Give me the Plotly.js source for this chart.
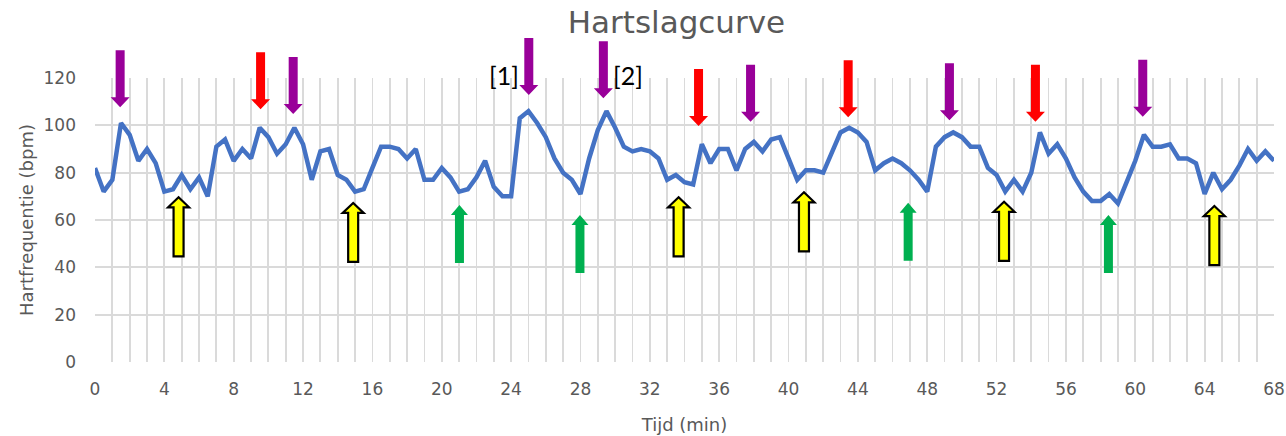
<!DOCTYPE html>
<html>
<head>
<meta charset="utf-8">
<script src="https://cdn.plot.ly/plotly-3.0.1.min.js"></script>
<style>html,body{margin:0;padding:0;background:#fff;}#chart{width:1286px;height:436px;}</style>
</head>
<body>
<div id="chart"></div>
<script>
// Time (min), one reading every half minute
const timeMin = [];
for (let i = 0; i <= 136; i++) timeMin.push(i / 2);

// Heart rate (bpm)
const heartRate = [
  82, 72, 77, 101, 96, 85, 90, 84, 72, 73,
  79, 73, 78, 70, 91, 94, 85, 90, 86, 99,
  95, 88, 92, 99, 92, 77, 89, 90, 79, 77,
  72, 73, 82, 91, 91, 90, 86, 90, 77, 77,
  82, 78, 72, 73, 78, 85, 74, 70, 70, 103,
  106, 101, 95, 86, 80, 77, 71, 86, 98, 106,
  99, 91, 89, 90, 89, 86, 77, 79, 76, 75,
  92, 84, 90, 90, 81, 90, 93, 89, 94, 95,
  86, 77, 81, 81, 80, 89, 97, 99, 97, 93,
  81, 84, 86, 84, 81, 77, 72, 91, 95, 97,
  95, 91, 91, 82, 79, 72, 77, 72, 80, 97,
  88, 92, 86, 78, 72, 68, 68, 71, 67, 76,
  85, 96, 91, 91, 92, 86, 86, 84, 71, 80,
  73, 77, 83, 90, 85, 89, 85
];

const xTickVals = [0,4,8,12,16,20,24,28,32,36,40,44,48,52,56,60,64,68];
const yTickVals = [0,20,40,60,80,100,120];
const yMax = 120;

// Arrow markers: time, tip level (axis units), kind
const arrowTimes  = [1.45, 11.43, 25.02, 29.32, 37.81, 49.28, 60.43,
                     9.55, 34.81, 43.44, 54.24,
                     4.82, 14.89, 33.66, 40.89, 52.43, 64.56,
                     21.02, 27.97, 46.9, 58.45];
const arrowTips   = [107.6, 104.8, 112.8, 111.4, 101.5, 102.2, 103.6,
                     106.8, 99.7, 103.4, 101.5,
                     69.6, 67.2, 69.6, 71.7, 67.7, 65.9,
                     66.3, 62.1, 67.3, 62.1];
const arrowKinds  = ['purple','purple','purple','purple','purple','purple','purple',
                     'red','red','red','red',
                     'yellow','yellow','yellow','yellow','yellow','yellow',
                     'green','green','green','green'];

const noteLabels = ['[1]', '[2]'];
const noteTimes  = [23.6, 30.75];
const noteLevel  = 128.5;

const kindStyle = {
  purple: {fill:'#990099', line:'#990099', dir:'down', len:57, sw:4.5, hw:9.5, hh:10, lw:0},
  red:    {fill:'#FF0000', line:'#FF0000', dir:'down', len:57, sw:4.5, hw:9.5, hh:10, lw:0},
  yellow: {fill:'#FFFF00', line:'#000000', dir:'up',   len:59, sw:5,   hw:10.5, hh:10, lw:2.2},
  green:  {fill:'#00B050', line:'#00B050', dir:'up',   len:58, sw:4.5, hw:8.5, hh:10, lw:0}
};

function arrowPath(s) {
  const d = s.dir === 'down' ? 1 : -1; // pixel y positive is up
  const p = [[0,0],[-s.hw,d*s.hh],[-s.sw,d*s.hh],[-s.sw,d*s.len],[s.sw,d*s.len],[s.sw,d*s.hh],[s.hw,d*s.hh]];
  return 'M' + p.map(q => q[0] + ',' + q[1]).join(' L') + ' Z';
}

const shapes = arrowTimes.map((t, i) => {
  const s = kindStyle[arrowKinds[i]];
  return {
    type: 'path', xref: 'x', yref: 'paper',
    xsizemode: 'pixel', ysizemode: 'pixel',
    xanchor: t, yanchor: arrowTips[i] / yMax,
    path: arrowPath(s),
    fillcolor: s.fill,
    line: {color: s.line, width: s.lw},
    layer: 'above'
  };
});

const annotations = noteLabels.map((txt, i) => ({
  text: txt, x: noteTimes[i], y: noteLevel / yMax, xref: 'x', yref: 'paper',
  showarrow: false, font: {family: 'Lato, sans-serif', size: 25, color: '#000000'}
}));

const grid = '#DADADA';
const txtCol = '#595959';
const fam = '"DejaVu Sans", sans-serif';

const trace = {
  x: timeMin, y: heartRate, type: 'scatter', mode: 'lines',
  line: {color: '#4472C4', width: 4.5, shape: 'linear'},
  hoverinfo: 'skip'
};

const layout = {
  width: 1286, height: 436,
  margin: {l: 95, r: 12, t: 78, b: 74},
  paper_bgcolor: '#FFFFFF', plot_bgcolor: '#FFFFFF',
  showlegend: false,
  title: {text: 'Hartslagcurve', x: 0.526, xanchor: 'center', y: 0.95, yanchor: 'middle',
          font: {family: fam, size: 31, color: txtCol}},
  xaxis: {
    range: [0, 68], tickvals: xTickVals, ticktext: xTickVals.map(String),
    showgrid: true, gridcolor: grid, gridwidth: 1.8,
    minor: {dtick: 1, tick0: 0, showgrid: true, gridcolor: grid, gridwidth: 1.8},
    zeroline: false, showline: false, ticks: '',
    ticklabelstandoff: 15,
    tickfont: {family: fam, size: 17, color: txtCol},
    title: {text: 'Tijd (min)', standoff: 20, font: {family: fam, size: 18, color: txtCol}},
    fixedrange: true
  },
  yaxis: {
    range: [0, yMax], tickvals: yTickVals, ticktext: yTickVals.map(String),
    showgrid: true, gridcolor: grid, gridwidth: 1.8,
    zeroline: false, showline: false, ticks: '',
    ticklabelstandoff: 18,
    tickfont: {family: fam, size: 17, color: txtCol},
    title: {text: 'Hartfrequentie (bpm)', standoff: 5, font: {family: fam, size: 18, color: txtCol}},
    fixedrange: true
  },
  shapes: shapes,
  annotations: annotations
};

Plotly.newPlot('chart', [trace], layout, {displayModeBar: false, staticPlot: true});
</script>
</body>
</html>
